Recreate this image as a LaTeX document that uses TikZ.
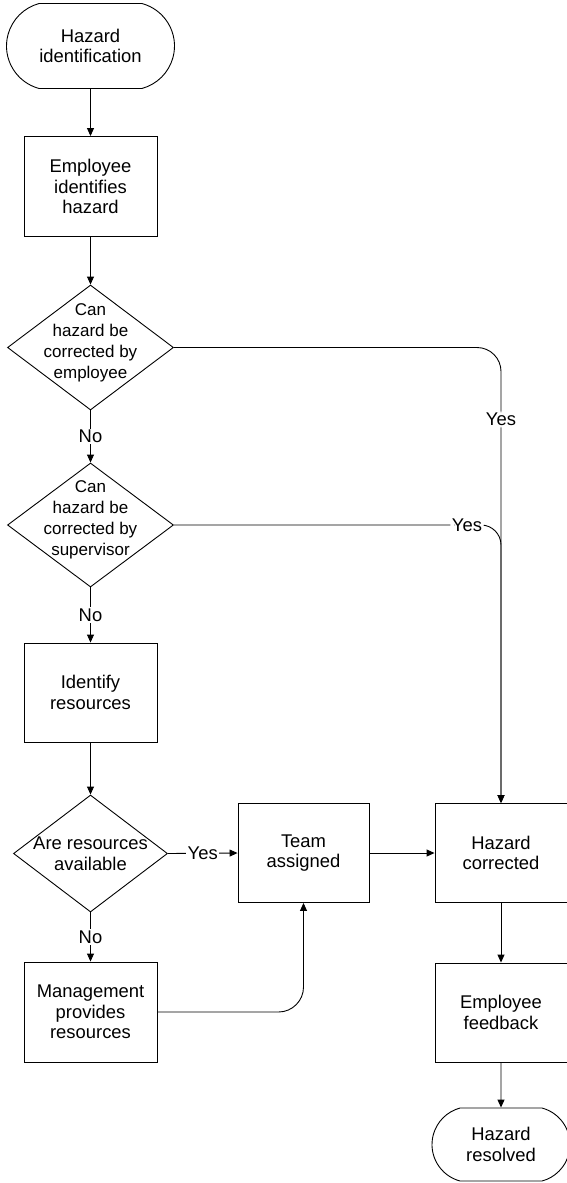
\documentclass[tikz,border=0pt]{standalone}
\usepackage{fontspec}
\setmainfont{Liberation Sans}
\usetikzlibrary{shapes.geometric,shapes.misc,arrows.meta}

\begin{document}
\begin{tikzpicture}[x=1pt,y=-1pt,
  every node/.style={font=\fontsize{18.4}{20.5}\selectfont},
  base/.style={draw=black,line width=0.9pt,inner sep=0pt},
  procbox/.style={base,rectangle,minimum width=133pt,minimum height=100pt,align=center},
  termbox/.style={base,rounded rectangle,rounded rectangle arc length=150,align=center},
  decbox/.style={base,diamond},
  txt/.style={align=center,inner sep=0pt},
  smalltxt/.style={txt,font=\fontsize{17}{21}\selectfont},
  lbl/.style={fill=white,inner sep=1.5pt},
  conn/.style={line width=0.9pt,-{Triangle[length=8pt,width=7pt]}}]

\useasboundingbox (0,0) rectangle (567,1183);
\clip (0,0) rectangle (567,1183);

% left column
\node[termbox,minimum width=168pt,minimum height=85pt] (start) at (90.5,46) {Hazard\\identification};
\node[procbox] (ident) at (90.5,186.5) {Employee\\identifies\\hazard};
\node[decbox,minimum width=166pt,minimum height=125pt] (dec1) at (90.5,347.5) {};
\node[smalltxt] (dec1t) at ([yshift=4.5pt]dec1.center) {Can\\hazard be\\corrected by\\employee};
\node[decbox,minimum width=166pt,minimum height=124pt] (dec2) at (90.5,525) {};
\node[smalltxt] (dec2t) at ([yshift=5pt]dec2.center) {Can\\hazard be\\corrected by\\supervisor};
\node[procbox,minimum height=99pt] (res) at (90.5,692.5) {Identify\\resources};
\node[decbox,minimum width=154pt,minimum height=117pt] (dec3) at (90.5,853.5) {};
\node[txt] (dec3t) at (dec3) {Are resources\\available};
\node[procbox] (mgmt) at (90.5,1012) {Management\\provides\\resources};

% middle and right columns
\node[procbox,minimum width=131pt,minimum height=99pt] (team) at (303.5,853) {Team\\assigned};
\node[procbox,minimum width=132pt,minimum height=99pt] (fix) at (501,853) {Hazard\\corrected};
\node[procbox,minimum width=132pt,minimum height=99pt] (fb) at (501,1012.5) {Employee\\feedback};
\node[termbox,minimum width=138pt,minimum height=73pt] (done) at (501,1144.5) {Hazard\\resolved};

% connectors
\draw[conn] (start) -- (ident);
\draw[conn] (ident) -- (dec1);
\draw[conn] (dec1.south) -- node[lbl] {No} (dec2.north);
\draw[conn] (dec2.south) -- node[lbl] {No} (res.north);
\draw[conn] (res) -- (dec3);
\draw[conn] (dec3.south) -- node[lbl] {No} (mgmt.north);
\draw[conn] (dec3.east) -- node[lbl] {Yes} (team.west);
\draw[conn,rounded corners=25pt] (mgmt.east) -| (team.south);
\draw[conn] (team) -- (fix);
\draw[conn,rounded corners=24pt] (dec1.east) -| node[lbl,pos=0.579] {Yes} (fix.north);
\draw[conn,rounded corners=20pt] (dec2.east) -| node[lbl,pos=0.448] {Yes} (fix.north);
\draw[conn] (fix) -- (fb);
\draw[conn] (fb) -- (done);
\end{tikzpicture}
\end{document}
